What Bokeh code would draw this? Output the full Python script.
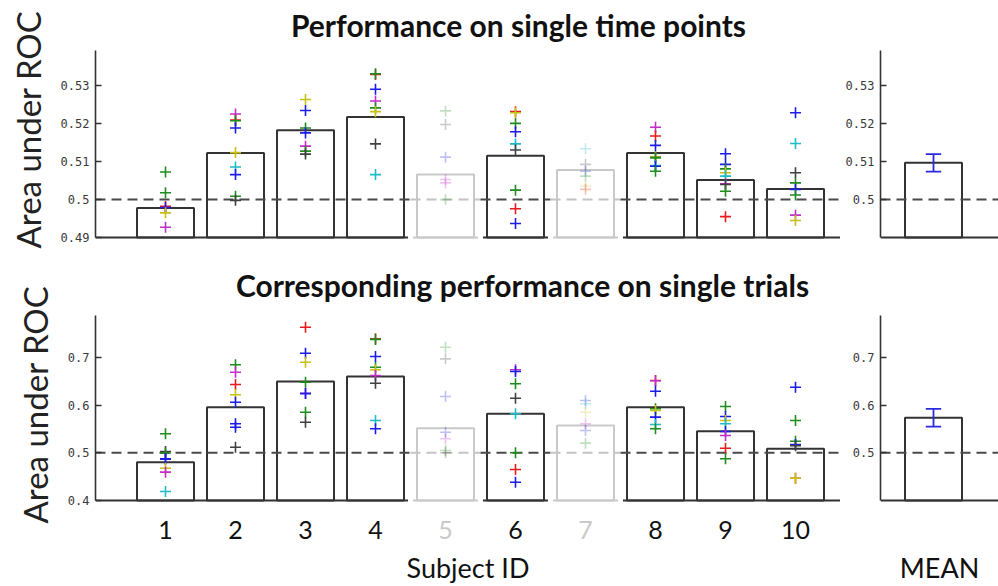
from bokeh.plotting import figure
from bokeh.layouts import column, row
from bokeh.models import ColumnDataSource, FixedTicker, Range1d, LinearAxis
from bokeh.core.properties import value
from bokeh.embed import file_html
from bokeh.resources import INLINE

# ---------------- data ----------------
subjects = [1, 2, 3, 4, 5, 6, 7, 8, 9, 10]
subject_labels = ["1", "2", "3", "4", "5", "6", "7", "8", "9", "10"]
dim_subjects = [5, 7]
chance_level = 0.5

# Performance on single time points
tp_bar = [0.4978, 0.5123, 0.5183, 0.5218, 0.5066, 0.5116, 0.5078, 0.5123, 0.5052, 0.5028]
tp_pt_subject = [1, 1, 1, 1, 1, 1,
                 2, 2, 2, 2, 2, 2, 2, 2, 2,
                 3, 3, 3, 3, 3, 3, 3,
                 4, 4, 4, 4, 4, 4, 4, 4,
                 5, 5, 5, 5, 5, 5,
                 6, 6, 6, 6, 6, 6, 6, 6, 6,
                 7, 7, 7, 7, 7, 7,
                 8, 8, 8, 8, 8, 8, 8, 8, 8,
                 9, 9, 9, 9, 9, 9, 9, 9, 9,
                 10, 10, 10, 10, 10, 10, 10, 10]
tp_pt_value = [0.5073, 0.5018, 0.4982, 0.4979, 0.4965, 0.4927,
               0.5226, 0.5210, 0.5208, 0.5189, 0.5124, 0.5086, 0.5066, 0.5009, 0.4998,
               0.5264, 0.5235, 0.5189, 0.5176, 0.5141, 0.5128, 0.5120,
               0.5330, 0.5332, 0.5291, 0.5260, 0.5242, 0.5232, 0.5147, 0.5066,
               0.5234, 0.5198, 0.5112, 0.5053, 0.5044, 0.5000,
               0.5232, 0.5229, 0.5201, 0.5179, 0.5147, 0.5131, 0.5025, 0.4976, 0.4937,
               0.5134, 0.5093, 0.5075, 0.5062, 0.5036, 0.5027,
               0.5191, 0.5168, 0.5143, 0.5113, 0.5112, 0.5110, 0.5090, 0.5088, 0.5075,
               0.5121, 0.5093, 0.5081, 0.5071, 0.5062, 0.5042, 0.5040, 0.5022, 0.4955,
               0.5229, 0.5148, 0.5071, 0.5044, 0.5027, 0.5012, 0.4959, 0.4945]
tp_pt_color = ["g", "g", "r", "b", "y", "m",
               "m", "r", "g", "b", "y", "c", "b", "g", "k",
               "y", "b", "g", "b", "m", "g", "k",
               "r", "g", "b", "m", "g", "y", "k", "c",
               "g", "k", "b", "m", "m", "g",
               "r", "y", "g", "b", "c", "k", "g", "r", "b",
               "c", "k", "b", "g", "y", "r",
               "m", "r", "b", "k", "y", "g", "c", "b", "g",
               "b", "b", "g", "y", "c", "m", "k", "g", "r",
               "b", "c", "k", "g", "b", "g", "m", "y"]
tp_mean = 0.5097
tp_err = 0.0023
tp_ticks_left = [0.49, 0.50, 0.51, 0.52, 0.53]
tp_labels_left = ["0.49", "0.5", "0.51", "0.52", "0.53"]
tp_ticks_right = [0.50, 0.51, 0.52, 0.53]
tp_labels_right = ["0.5", "0.51", "0.52", "0.53"]
tp_axis_top = 0.5393

# Corresponding performance on single trials
tr_bar = [0.4803, 0.5956, 0.6495, 0.6600, 0.5516, 0.5818, 0.5572, 0.5956, 0.5453, 0.5084]
tr_pt_subject = [1, 1, 1, 1, 1, 1, 1, 1,
                 2, 2, 2, 2, 2, 2, 2, 2,
                 3, 3, 3, 3, 3, 3, 3, 3,
                 4, 4, 4, 4, 4, 4, 4, 4, 4,
                 5, 5, 5, 5, 5, 5, 5,
                 6, 6, 6, 6, 6, 6, 6, 6,
                 7, 7, 7, 7, 7, 7,
                 8, 8, 8, 8, 8, 8, 8, 8,
                 9, 9, 9, 9, 9, 9, 9, 9,
                 10, 10, 10, 10, 10, 10, 10]
tr_pt_value = [0.5398, 0.5027, 0.4995, 0.4874, 0.4864, 0.4677, 0.4594, 0.4189,
               0.6845, 0.6690, 0.6432, 0.6216, 0.6061, 0.5608, 0.5537, 0.5117,
               0.7633, 0.7088, 0.6899, 0.6480, 0.6249, 0.6241, 0.5851, 0.5642,
               0.7390, 0.7377, 0.7019, 0.6795, 0.6740, 0.6620, 0.6459, 0.5677, 0.5503,
               0.7214, 0.6970, 0.6180, 0.5432, 0.5293, 0.5048, 0.5000,
               0.6740, 0.6704, 0.6447, 0.6145, 0.5818, 0.5000, 0.4650, 0.4384,
               0.6096, 0.6027, 0.5851, 0.5608, 0.5468, 0.5202,
               0.6516, 0.6510, 0.6291, 0.5922, 0.5887, 0.5747, 0.5593, 0.5503,
               0.5970, 0.5761, 0.5677, 0.5608, 0.5447, 0.5363, 0.5096, 0.4874,
               0.6375, 0.5677, 0.5243, 0.5174, 0.5147, 0.4468, 0.4468]
tr_pt_color = ["g", "k", "g", "b", "b", "y", "m", "c",
               "g", "m", "r", "y", "b", "b", "b", "k",
               "r", "b", "y", "g", "m", "b", "g", "k",
               "r", "g", "b", "g", "y", "m", "k", "c", "b",
               "g", "k", "b", "b", "m", "g", "k",
               "m", "b", "g", "k", "c", "g", "r", "b",
               "b", "c", "y", "m", "b", "g",
               "r", "m", "b", "g", "y", "b", "c", "g",
               "g", "b", "y", "c", "b", "m", "r", "g",
               "b", "g", "g", "b", "k", "r", "y"]
tr_mean = 0.5734
tr_err = 0.0185
tr_ticks_left = [0.4, 0.5, 0.6, 0.7]
tr_labels_left = ["0.4", "0.5", "0.6", "0.7"]
tr_ticks_right = [0.5, 0.6, 0.7]
tr_labels_right = ["0.5", "0.6", "0.7"]
tr_axis_top = 0.788

title_top = "Performance on single time points"
title_bottom = "Corresponding performance on single trials"
y_label = "Area under ROC"
x_label = "Subject ID"
mean_label = "MEAN"

# ---------------- styling / layout ----------------
PALETTE = {"r": "#e81c1c", "g": "#1e8c1e", "b": "#1c1ce8", "c": "#1cbcc8",
           "m": "#c22ec8", "y": "#c8c014", "k": "#404040"}
DARK = "#333333"
LIGHT = "#c9c9c9"
TEXT = "#111111"
DIM_ALPHA = 0.28
PX_PER_X = 70.0
BAR_W = 0.814
LEFT_BORDER = 95
LEFT_FRAME_W = 745
RIGHT_BORDER = 40
RIGHT_FRAME_W = 118
MEAN_X = 0.757
FONT = "Lato"
TICK_FONT = "DejaVu Sans Mono"

left_x_end = LEFT_FRAME_W / PX_PER_X
right_x_end = RIGHT_FRAME_W / PX_PER_X

# row geometry in page pixels
TOP = dict(row_top=0, row_h=258, frame_top=0, frame_bottom=258,
           baseline=237, ppy=3790.0, base=0.49)
BOT = dict(row_top=258, row_h=328, frame_top=258, frame_bottom=550,
           baseline=500, ppy=477.0, base=0.4)


def y_at(g, page_y):
    """data value shown at a page pixel row"""
    return g["base"] + (g["baseline"] - page_y) / g["ppy"]


def x_at(page_x):
    return (page_x - LEFT_BORDER) / PX_PER_X


def regions(x_end):
    dim = [s in dim_subjects for s in subjects]
    out = []
    start = 0.0
    for i in range(1, len(subjects)):
        if dim[i] != dim[i - 1]:
            out.append((start, subjects[i] - 0.5, dim[i - 1]))
            start = subjects[i] - 0.5
    out.append((start, x_end, dim[-1]))
    return out


def style_axis(p, ticks, labels, axis_label, y_lo, y_hi):
    ax = p.yaxis[0]
    ax.ticker = FixedTicker(ticks=ticks)
    ax.major_label_overrides = {t: l for t, l in zip(ticks, labels)}
    ax.major_tick_in = 6
    ax.major_tick_out = 0
    ax.minor_tick_in = 0
    ax.minor_tick_out = 0
    ax.major_tick_line_color = DARK
    ax.major_tick_line_width = 1.3
    ax.axis_line_color = DARK
    ax.axis_line_width = 1.6
    ax.bounds = (y_lo, y_hi)
    ax.major_label_text_font = TICK_FONT
    ax.major_label_text_font_size = "12px"
    ax.major_label_text_color = "#3a3a3a"
    ax.major_label_standoff = 6
    if axis_label:
        ax.axis_label = axis_label
        ax.axis_label_text_font = FONT
        ax.axis_label_text_font_style = "normal"
        ax.axis_label_text_font_size = "33px"
        ax.axis_label_text_color = "#222222"
        ax.axis_label_standoff = 10


def base_fig(g, width, border_l, x_end):
    y_start = y_at(g, g["frame_bottom"])
    y_end = y_at(g, g["frame_top"])
    p = figure(width=width, height=g["row_h"], output_backend="svg",
               toolbar_location=None,
               x_range=Range1d(0, x_end), y_range=Range1d(y_start, y_end),
               x_axis_location=None, y_axis_location="left",
               min_border_left=border_l, min_border_right=0,
               min_border_top=g["frame_top"] - g["row_top"],
               min_border_bottom=g["row_top"] + g["row_h"] - g["frame_bottom"])
    p.xgrid.visible = False
    p.ygrid.visible = False
    p.outline_line_color = None
    p.background_fill_color = "white"
    p.border_fill_color = "white"
    return p


def add_bottom_label(p, text):
    ax = LinearAxis(ticker=FixedTicker(ticks=[]), axis_label=text,
                    axis_line_color=None, major_tick_in=0, major_tick_out=0,
                    minor_tick_in=0, minor_tick_out=0,
                    major_label_text_font_size="0px", major_label_standoff=0,
                    axis_label_standoff=0, axis_label_text_font=FONT,
                    axis_label_text_font_style="normal",
                    axis_label_text_font_size="27px", axis_label_text_color=TEXT)
    p.add_layout(ax, "below")


def add_title(p, g, text, page_x, page_y):
    p.text(x=[x_at(page_x)], y=[y_at(g, page_y)], text=[text],
           text_align="center", text_baseline="middle", text_color=TEXT,
           text_font=value(FONT), text_font_style="bold", text_font_size="30px")


def draw_subjects(p, bars, pt_subj, pt_val, pt_col, base, x_end):
    src = ColumnDataSource(dict(
        x=subjects, top=bars,
        line=[LIGHT if s in dim_subjects else DARK for s in subjects]))
    p.vbar(x="x", top="top", bottom=base, width=BAR_W, source=src,
           fill_color="white", line_color="line", line_width=2)
    gap = 0.035
    regs = regions(x_end)
    for i, (a, b, is_dim) in enumerate(regs):
        col = LIGHT if is_dim else DARK
        col_d = "#c4c4c4" if is_dim else "#4a4a4a"
        p.segment(x0=[a], y0=[chance_level], x1=[b], y1=[chance_level],
                  line_color=col_d, line_width=2, line_dash="10 6")
        a2 = a + gap if i > 0 else a
        b2 = b - gap if i < len(regs) - 1 else b
        p.segment(x0=[a2], y0=[base], x1=[b2], y1=[base],
                  line_color=col, line_width=2)
    psrc = ColumnDataSource(dict(
        x=pt_subj, y=pt_val,
        color=[PALETTE[c] for c in pt_col],
        alpha=[DIM_ALPHA if s in dim_subjects else 1.0 for s in pt_subj]))
    p.scatter(x="x", y="y", source=psrc, marker="cross", size=11,
              line_color="color", line_alpha="alpha", line_width=1.6)


def draw_mean(p, mean, err, base, x_end):
    p.vbar(x=[MEAN_X], top=[mean], bottom=base, width=BAR_W,
           fill_color="white", line_color=DARK, line_width=2)
    p.segment(x0=[0], y0=[chance_level], x1=[x_end], y1=[chance_level],
              line_color="#4a4a4a", line_width=2, line_dash="10 6")
    p.segment(x0=[0], y0=[base], x1=[x_end], y1=[base], line_color=DARK, line_width=2)
    cap = 0.11
    p.segment(x0=[MEAN_X, MEAN_X - cap, MEAN_X - cap],
              y0=[mean - err, mean + err, mean - err],
              x1=[MEAN_X, MEAN_X + cap, MEAN_X + cap],
              y1=[mean + err, mean + err, mean - err],
              line_color="#2a2ae0", line_width=1.8)


# ---------- top row ----------
f1 = base_fig(TOP, LEFT_BORDER + LEFT_FRAME_W, LEFT_BORDER, left_x_end)
style_axis(f1, tp_ticks_left, tp_labels_left, y_label, TOP["base"], tp_axis_top)
draw_subjects(f1, tp_bar, tp_pt_subject, tp_pt_value, tp_pt_color, TOP["base"], left_x_end)
add_title(f1, TOP, title_top, 518, 24)

f2 = base_fig(TOP, RIGHT_BORDER + RIGHT_FRAME_W, RIGHT_BORDER, right_x_end)
style_axis(f2, tp_ticks_right, tp_labels_right, None, TOP["base"], tp_axis_top)
draw_mean(f2, tp_mean, tp_err, TOP["base"], right_x_end)

# ---------- bottom row ----------
f3 = base_fig(BOT, LEFT_BORDER + LEFT_FRAME_W, LEFT_BORDER, left_x_end)
style_axis(f3, tr_ticks_left, tr_labels_left, y_label, BOT["base"], tr_axis_top)
draw_subjects(f3, tr_bar, tr_pt_subject, tr_pt_value, tr_pt_color, BOT["base"], left_x_end)
add_title(f3, BOT, title_bottom, 522, 284)
f3.text(x=subjects, y=[y_at(BOT, 529)] * len(subjects), text=subject_labels,
        text_color=[LIGHT if s in dim_subjects else TEXT for s in subjects],
        text_align="center", text_baseline="middle",
        text_font=value(FONT), text_font_size="25px")
add_bottom_label(f3, x_label)

f4 = base_fig(BOT, RIGHT_BORDER + RIGHT_FRAME_W, RIGHT_BORDER, right_x_end)
style_axis(f4, tr_ticks_right, tr_labels_right, None, BOT["base"], tr_axis_top)
draw_mean(f4, tr_mean, tr_err, BOT["base"], right_x_end)
add_bottom_label(f4, mean_label)

layout = column(row(f1, f2), row(f3, f4))
open("out.html", "w").write(file_html(layout, INLINE))
